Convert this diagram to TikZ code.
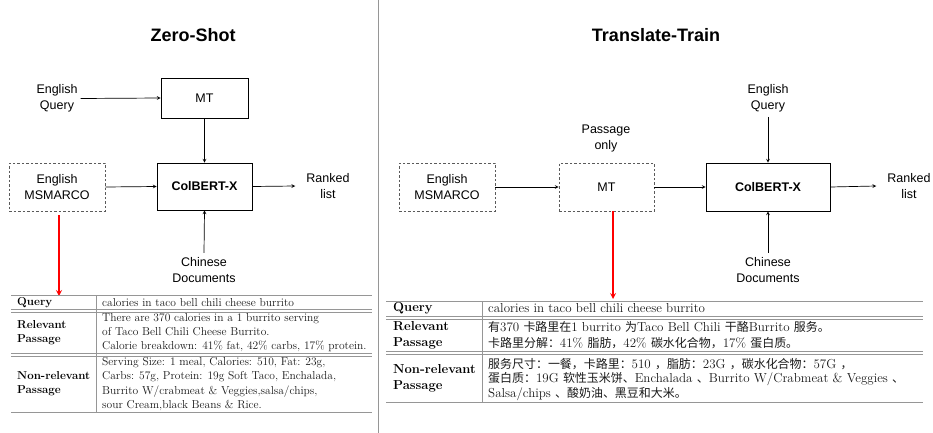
\documentclass[tikz,border=0pt]{standalone}
\usepackage{fontspec}
\usepackage{tikz}
\newfontfamily\diagfont{Liberation Sans}
\newfontfamily\cjk[Scale=0.92]{Noto Sans CJK SC}
\newcommand{\zh}[1]{{\cjk #1}}
\definecolor{rulegray}{RGB}{150,150,150}
\definecolor{dashgray}{RGB}{90,90,90}
\definecolor{cellink}{RGB}{25,25,25}

\begin{document}
\begin{tikzpicture}[x=1pt,y=-1pt,
		sansbox/.style={draw,line width=0.7pt,inner sep=0pt,minimum height=48pt,align=center,font=\diagfont\fontsize{12.5}{15.5}\selectfont},
		dashbox/.style={sansbox,draw=dashgray,dash pattern=on 2.5pt off 2pt},
		sanstext/.style={inner sep=3pt,align=center,font=\diagfont\fontsize{12.5}{15.5}\selectfont},
		titletext/.style={inner sep=0pt,font=\diagfont\bfseries\fontsize{18}{20}\selectfont},
		flow/.style={-stealth,line width=0.7pt},
		redflow/.style={-stealth,red,line width=1.6pt},
		cell/.style={anchor=west,inner sep=0pt,align=left,text=cellink,font=\fontsize{11.5}{14.3}\selectfont},
		headcell/.style={cell,text=black,font=\fontsize{11.5}{14.3}\selectfont\bfseries},
		bigcell/.style={cell,font=\fontsize{13}{16}\selectfont},
		bighead/.style={headcell,font=\fontsize{13}{16}\selectfont\bfseries},
		rule/.style={rulegray,line width=0.8pt}]
		\useasboundingbox (0,0) rectangle (933,433);

		% divider
		\draw[rulegray,line width=1pt] (378,0) -- (378,433);

		% zero-shot
		\coordinate (title_zs) at (193,35);
		\coordinate (eq_zs_at) at (57,98.5);
		\coordinate (mt_zs_at) at (204.5,98);
		\coordinate (msmarco_zs_at) at (57,187);
		\coordinate (colbert_zs_at) at (204.5,186.5);
		\coordinate (ranked_zs_at) at (328,186);
		\coordinate (docs_zs_at) at (204,270);
		\coordinate (tbl_zs_arrow) at (59,296);
		\node[titletext] (title_zs_node) at (title_zs) {Zero-Shot};
		\node[sanstext] (eq_zs) at (eq_zs_at) {English\\Query};
		\node[sansbox,minimum width=87pt,minimum height=40pt] (mt_zs) at (mt_zs_at) {MT};
		\node[dashbox,minimum width=96pt] (msmarco_zs) at (msmarco_zs_at) {English\\MSMARCO};
		\node[sansbox,minimum width=95pt,minimum height=47pt] (colbert_zs) at (colbert_zs_at) {\textbf{ColBERT-X}};
		\node[sanstext,inner xsep=11pt] (ranked_zs) at (ranked_zs_at) {Ranked\\list};
		\node[sanstext,inner sep=4.5pt] (docs_zs) at (docs_zs_at) {Chinese\\Documents};

		\draw[flow] (eq_zs.east) -- (mt_zs.west);
		\draw[flow] (mt_zs.south) -- (colbert_zs.north);
		\draw[flow] (msmarco_zs.east) -- (colbert_zs.west);
		\draw[flow] (colbert_zs.east) -- (ranked_zs.west);
		\draw[flow] (docs_zs.north) -- (colbert_zs.south);
		\draw[redflow,shorten <=4pt] (msmarco_zs.south -| tbl_zs_arrow) -- (tbl_zs_arrow);

		\draw[rule] (11,295) -- (372,295);
		\draw[rule] (11,309) -- (372,309);
		\draw[rule] (11,312) -- (372,312);
		\draw[rule] (11,353) -- (372,353);
		\draw[rule] (11,356) -- (372,356);
		\draw[rule] (11,412) -- (372,412);
		\draw[rule] (96,295) -- (96,412);

		\node[headcell] (q_zs_head) at (17,302.5) {Query};
		\node[cell] (q_zs) at (102,302.5) {calories in taco bell chili cheese burrito};
		\node[headcell] (rel_zs_head) at (17,332.5) {Relevant\\Passage};
		\node[cell] (rel_zs) at (102,332.5) {There are 370 calories in a 1 burrito serving\\of Taco Bell Chili Cheese Burrito.\\Calorie breakdown: 41\% fat, 42\% carbs, 17\% protein.};
		\node[headcell] (non_zs_head) at (17,384) {Non-relevant\\Passage};
		\node[cell] (non_zs) at (102,384) {Serving Size: 1 meal, Calories: 510, Fat: 23g,\\Carbs: 57g, Protein: 19g Soft Taco, Enchalada,\\Burrito W/crabmeat \& Veggies,salsa/chips,\\sour Cream,black Beans \& Rice.};

		% translate-train
		\coordinate (title_tt) at (656,35);
		\coordinate (msmarco_tt_at) at (447,187);
		\coordinate (mt_tt_at) at (606.5,187);
		\coordinate (passage_tt_at) at (606,138.5);
		\coordinate (colbert_tt_at) at (768,187);
		\coordinate (eq_tt_at) at (768,98.5);
		\coordinate (docs_tt_at) at (768,270);
		\coordinate (ranked_tt_at) at (909,186);
		\coordinate (tbl_tt_arrow) at (613,299);
		\node[titletext] (title_tt_node) at (title_tt) {Translate-Train};
		\node[dashbox,minimum width=96pt] (msmarco_tt) at (msmarco_tt_at) {English\\MSMARCO};
		\node[dashbox,minimum width=95pt] (mt_tt) at (mt_tt_at) {MT};
		\node[sanstext] (passage_tt) at (passage_tt_at) {Passage\\only};
		\node[sansbox,minimum width=124pt] (colbert_tt) at (colbert_tt_at) {\textbf{ColBERT-X}};
		\node[sanstext,inner sep=4.5pt] (eq_tt) at (eq_tt_at) {English\\Query};
		\node[sanstext,inner sep=4.5pt] (docs_tt) at (docs_tt_at) {Chinese\\Documents};
		\node[sanstext,inner xsep=11pt] (ranked_tt) at (ranked_tt_at) {Ranked\\list};

		\draw[flow] (msmarco_tt.east) -- (mt_tt.west);
		\draw[flow] (mt_tt.east) -- (colbert_tt.west);
		\draw[flow] (eq_tt.south) -- (colbert_tt.north);
		\draw[flow] (docs_tt.north) -- (colbert_tt.south);
		\draw[flow] (colbert_tt.east) -- (ranked_tt.west);
		\draw[redflow] (mt_tt.south -| tbl_tt_arrow) -- (tbl_tt_arrow);

		\draw[rule] (386,301) -- (923,301);
		\draw[rule] (386,316) -- (923,316);
		\draw[rule] (386,319) -- (923,319);
		\draw[rule] (386,351) -- (923,351);
		\draw[rule] (386,354) -- (923,354);
		\draw[rule] (386,402) -- (923,402);
		\draw[rule] (482,301) -- (482,402);

		\node[bighead] (q_tt_head) at (393,308.5) {Query};
		\node[bigcell] (q_tt) at (488,308.5) {calories in taco bell chili cheese burrito};
		\node[bighead] (rel_tt_head) at (393,335) {Relevant\\Passage};
		\node[bigcell] (rel_tt) at (488,335) {\zh{有}370 \zh{卡路里在}1 burrito \zh{为}Taco Bell Chili \zh{干酪}Burrito \zh{服务。}\\\zh{卡路里分解：}41\% \zh{脂肪，}42\% \zh{碳水化合物，}17\% \zh{蛋白质。}};
		\node[bighead] (non_tt_head) at (393,378) {Non-relevant\\Passage};
		\node[bigcell,font=\fontsize{13}{14.5}\selectfont] (non_tt) at (488,379.5) {\zh{服务尺寸：一餐，卡路里：}510 \zh{，脂肪：}23G \zh{，碳水化合物：}57G \zh{，}\\\zh{蛋白质：}19G \zh{软性玉米饼、}Enchalada \zh{、}Burrito W/Crabmeat \& Veggies \zh{、}\\Salsa/chips \zh{、酸奶油、黑豆和大米。}};
	\end{tikzpicture}
\end{document}
